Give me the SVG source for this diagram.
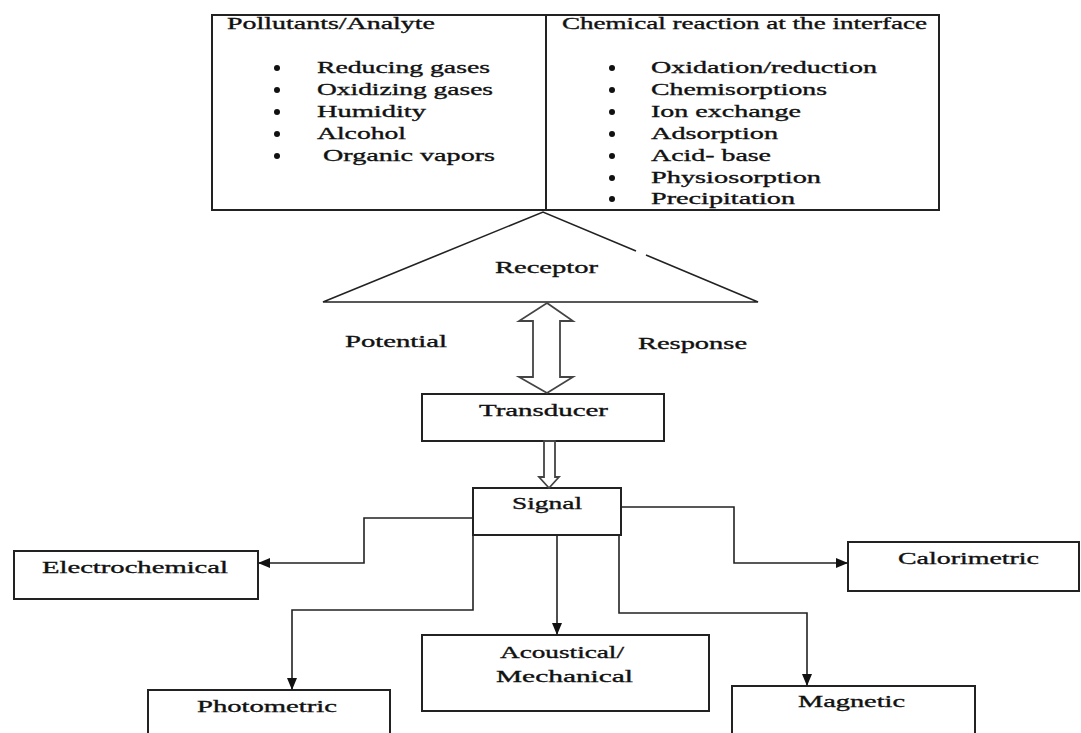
<svg xmlns="http://www.w3.org/2000/svg" width="1081" height="733" viewBox="0 0 1081 733">
<defs>
<style>
.box{fill:#fff;stroke:#222;stroke-width:2}
.ln{fill:none;stroke:#222;stroke-width:1.6}
.t{font-family:"Liberation Serif","Times New Roman",serif;font-size:17.5px;fill:#111;stroke:#111;stroke-width:0.35}
.b{fill:#111}
.hollow{fill:#fff;stroke:#444;stroke-width:1.8;stroke-linejoin:miter}
</style>
<marker id="ah" markerUnits="userSpaceOnUse" markerWidth="12" markerHeight="12" viewBox="0 0 12 12" refX="12" refY="6" orient="auto">
<path d="M0,1 L12,6 L0,11 Z" fill="#111"/>
</marker>
</defs>
<rect width="1081" height="733" fill="#fff"/>

<g id="analyte">
<rect class="box" x="212" y="15" width="334" height="195"/>
<text class="t" x="227" y="29" textLength="208" lengthAdjust="spacingAndGlyphs">Pollutants/Analyte</text>
<circle class="b" cx="277" cy="68" r="3"/><text class="t" x="317" y="73" textLength="173" lengthAdjust="spacingAndGlyphs">Reducing gases</text>
<circle class="b" cx="277" cy="90" r="3"/><text class="t" x="317" y="95" textLength="176" lengthAdjust="spacingAndGlyphs">Oxidizing gases</text>
<circle class="b" cx="277" cy="112" r="3"/><text class="t" x="317" y="117" textLength="109" lengthAdjust="spacingAndGlyphs">Humidity</text>
<circle class="b" cx="277" cy="134" r="3"/><text class="t" x="317" y="139" textLength="89" lengthAdjust="spacingAndGlyphs">Alcohol</text>
<circle class="b" cx="277" cy="156" r="3"/><text class="t" x="323" y="161" textLength="172" lengthAdjust="spacingAndGlyphs">Organic vapors</text>
</g>

<g id="reaction">
<rect class="box" x="546" y="15" width="393" height="195"/>
<text class="t" x="562" y="29" textLength="365" lengthAdjust="spacingAndGlyphs">Chemical reaction at the interface</text>
<circle class="b" cx="612" cy="68" r="3"/><text class="t" x="651" y="73" textLength="226" lengthAdjust="spacingAndGlyphs">Oxidation/reduction</text>
<circle class="b" cx="612" cy="90" r="3"/><text class="t" x="651" y="95" textLength="176" lengthAdjust="spacingAndGlyphs">Chemisorptions</text>
<circle class="b" cx="612" cy="112" r="3"/><text class="t" x="651" y="117" textLength="150" lengthAdjust="spacingAndGlyphs">Ion exchange</text>
<circle class="b" cx="612" cy="134" r="3"/><text class="t" x="651" y="138.5" textLength="127" lengthAdjust="spacingAndGlyphs">Adsorption</text>
<circle class="b" cx="612" cy="156" r="3"/><text class="t" x="651" y="160.5" textLength="120" lengthAdjust="spacingAndGlyphs">Acid- base</text>
<circle class="b" cx="612" cy="178" r="3"/><text class="t" x="651" y="182.5" textLength="170" lengthAdjust="spacingAndGlyphs">Physiosorption</text>
<circle class="b" cx="612" cy="199" r="3"/><text class="t" x="651" y="204" textLength="144" lengthAdjust="spacingAndGlyphs">Precipitation</text>
</g>

<g id="receptor">
<path class="ln" d="M636,250.9 L543,212 L323,302 L758,302 L646,255.1"/>
<text class="t" x="495" y="273" textLength="103" lengthAdjust="spacingAndGlyphs">Receptor</text>
</g>

<g id="labels">
<text class="t" x="345" y="347" textLength="102" lengthAdjust="spacingAndGlyphs">Potential</text>
<text class="t" x="638" y="349" textLength="109" lengthAdjust="spacingAndGlyphs">Response</text>
</g>

<g id="transducer">
<rect class="box" x="422" y="394" width="242" height="47"/>
<text class="t" x="479" y="416" textLength="129" lengthAdjust="spacingAndGlyphs">Transducer</text>
</g>

<g id="signal">
<rect class="box" x="473" y="488" width="148" height="47"/>
<text class="t" x="512" y="509" textLength="70" lengthAdjust="spacingAndGlyphs">Signal</text>
</g>

<g id="electrochemical">
<rect class="box" x="14" y="551" width="244" height="48"/>
<text class="t" x="42" y="573" textLength="186" lengthAdjust="spacingAndGlyphs">Electrochemical</text>
</g>

<g id="calorimetric">
<rect class="box" x="848" y="542" width="231" height="49"/>
<text class="t" x="898" y="564" textLength="141" lengthAdjust="spacingAndGlyphs">Calorimetric</text>
</g>

<g id="acoustical">
<rect class="box" x="422" y="635" width="287" height="76"/>
<text class="t" x="500" y="658" textLength="124" lengthAdjust="spacingAndGlyphs">Acoustical/</text>
<text class="t" x="496" y="682" textLength="137" lengthAdjust="spacingAndGlyphs">Mechanical</text>
</g>

<g id="photometric">
<rect class="box" x="148" y="690" width="242" height="60"/>
<text class="t" x="197" y="712" textLength="140" lengthAdjust="spacingAndGlyphs">Photometric</text>
</g>

<g id="magnetic">
<rect class="box" x="732" y="686" width="243" height="60"/>
<text class="t" x="798" y="707" textLength="107" lengthAdjust="spacingAndGlyphs">Magnetic</text>
</g>

<g id="connectors">
<path class="hollow" d="M547,303 L573,321 L560,321 L560,377 L573,377 L547,393 L519,377 L533,377 L533,321 L519,321 Z"/>
<path class="hollow" stroke-width="1.5" d="M544,441 L555,441 L555,477 L559,477 L549,488 L539,477 L544,477 Z"/>
<path class="ln" marker-end="url(#ah)" d="M473,518 L364,518 L364,563 L258,563"/>
<path class="ln" marker-end="url(#ah)" d="M473,535 L473,610 L292,610 L292,690"/>
<path class="ln" marker-end="url(#ah)" d="M557,535 L557,635"/>
<path class="ln" marker-end="url(#ah)" d="M619,535 L619,613 L807,613 L807,686"/>
<path class="ln" marker-end="url(#ah)" d="M621,507 L734,507 L734,563 L848,563"/>
</g>
</svg>
